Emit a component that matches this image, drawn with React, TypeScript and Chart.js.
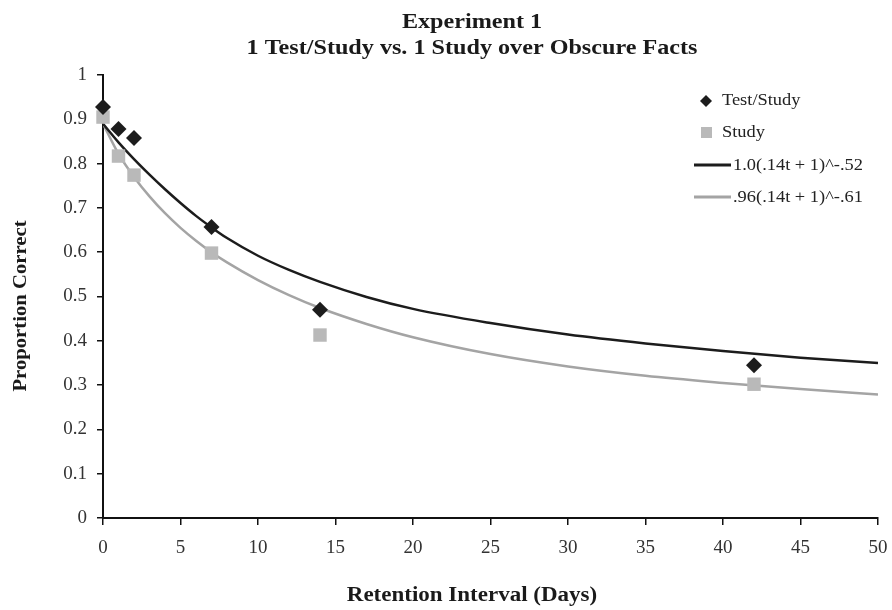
import React, { useEffect, useRef } from "react";
import { Chart, registerables } from "chart.js";
Chart.register(...registerables);

const chartTitle = ["Experiment 1", "1 Test/Study vs. 1 Study over Obscure Facts"];
const xAxisTitle = "Retention Interval (Days)";
const yAxisTitle = "Proportion Correct";
const seriesNames = ["Test/Study", "Study", "1.0(.14t + 1)^-.52", ".96(.14t + 1)^-.61"];

const retentionDays = [0, 1, 2, 7, 14, 42];
const testStudyValues = [0.928, 0.878, 0.858, 0.657, 0.47, 0.345];
const studyValues = [0.905, 0.817, 0.774, 0.598, 0.413, 0.302];

const curveDays = [0, 1, 2, 3, 4, 5, 6, 7, 8, 10, 12, 14, 17, 20, 25, 30, 35, 40, 45, 50];
const testStudyCurve = [0.89, 0.848, 0.81, 0.775, 0.742, 0.711, 0.682, 0.656, 0.632, 0.592, 0.56, 0.533, 0.499, 0.472, 0.44, 0.414, 0.394, 0.377, 0.362, 0.35];
const studyCurve = [0.89, 0.822, 0.77, 0.726, 0.688, 0.655, 0.626, 0.6, 0.577, 0.537, 0.503, 0.474, 0.438, 0.408, 0.37, 0.342, 0.321, 0.305, 0.291, 0.279];

const DARK = "#1c1c1c";
const GRAY_MARK = "#b9b9b9";
const GRAY_LINE = "#a4a4a4";
const SERIF = '"Liberation Serif", "Times New Roman", serif';

function stretchText(ctx: CanvasRenderingContext2D, text: string, x: number, y: number, sx: number) {
  ctx.save();
  ctx.translate(x, y);
  ctx.scale(sx, 1);
  ctx.fillText(text, 0, 0);
  ctx.restore();
}

const annotations = {
  id: "annotations",
  afterDraw(chart: any) {
    const ctx: CanvasRenderingContext2D = chart.ctx;
    const SX = 1.15;
    ctx.save();
    ctx.fillStyle = "#1a1a1a";
    ctx.textBaseline = "middle";
    ctx.textAlign = "center";
    ctx.font = `bold 21px ${SERIF}`;
    stretchText(ctx, chartTitle[0], 472, 23, SX);
    stretchText(ctx, chartTitle[1], 472, 49, SX);
    ctx.font = `bold 20px ${SERIF}`;
    stretchText(ctx, xAxisTitle, 472, 596, SX);
    ctx.save();
    ctx.translate(21, 306);
    ctx.rotate(-Math.PI / 2);
    ctx.font = `bold 18px ${SERIF}`;
    stretchText(ctx, yAxisTitle, 0, 0, SX);
    ctx.restore();

    // legend
    ctx.textAlign = "left";
    ctx.font = `16px ${SERIF}`;
    ctx.fillStyle = DARK;
    ctx.beginPath();
    ctx.moveTo(706, 95);
    ctx.lineTo(712, 101);
    ctx.lineTo(706, 107);
    ctx.lineTo(700, 101);
    ctx.closePath();
    ctx.fill();
    ctx.fillStyle = "#222";
    stretchText(ctx, seriesNames[0], 722, 101, SX);
    ctx.fillStyle = GRAY_MARK;
    ctx.fillRect(701, 127, 11, 11);
    ctx.fillStyle = "#222";
    stretchText(ctx, seriesNames[1], 722, 133, SX);
    ctx.lineWidth = 3;
    ctx.strokeStyle = DARK;
    ctx.beginPath();
    ctx.moveTo(694, 165);
    ctx.lineTo(731, 165);
    ctx.stroke();
    stretchText(ctx, seriesNames[2], 733, 166, SX);
    ctx.strokeStyle = GRAY_LINE;
    ctx.beginPath();
    ctx.moveTo(694, 197);
    ctx.lineTo(731, 197);
    ctx.stroke();
    stretchText(ctx, seriesNames[3], 733, 198, SX);
    ctx.restore();
  },
};

export default function App() {
  const ref = useRef<HTMLCanvasElement | null>(null);
  useEffect(() => {
    if (!ref.current) return;
    const chart = new Chart(ref.current, {
      type: "scatter",
      data: {
        datasets: [
          {
            label: seriesNames[0],
            data: retentionDays.map((d, i) => ({ x: d, y: testStudyValues[i] })),
            pointStyle: "rectRot",
            pointRadius: 8,
            backgroundColor: DARK,
            borderColor: DARK,
            borderWidth: 0,
            showLine: false,
            clip: false as any,
            order: 0,
          },
          {
            label: seriesNames[1],
            data: retentionDays.map((d, i) => ({ x: d, y: studyValues[i] })),
            pointStyle: "rect",
            pointRadius: 9.5,
            backgroundColor: GRAY_MARK,
            borderColor: GRAY_MARK,
            borderWidth: 0,
            showLine: false,
            clip: false as any,
            order: 1,
          },
          {
            label: seriesNames[2],
            data: curveDays.map((d, i) => ({ x: d, y: testStudyCurve[i] })),
            showLine: true,
            pointRadius: 0,
            borderColor: DARK,
            borderWidth: 2.5,
            cubicInterpolationMode: "monotone",
            order: 2,
          } as any,
          {
            label: seriesNames[3],
            data: curveDays.map((d, i) => ({ x: d, y: studyCurve[i] })),
            showLine: true,
            pointRadius: 0,
            borderColor: GRAY_LINE,
            borderWidth: 2.5,
            cubicInterpolationMode: "monotone",
            order: 3,
          } as any,
        ],
      },
      options: {
        animation: false,
        responsive: true,
        maintainAspectRatio: false,
        layout: { padding: { left: 0, right: 14, top: 75, bottom: 0 } },
        plugins: { legend: { display: false }, tooltip: { enabled: false }, title: { display: false } },
        scales: {
          x: {
            type: "linear",
            min: 0,
            max: 50,
            ticks: {
              stepSize: 5,
              color: "#333",
              font: { family: SERIF, size: 19 },
              padding: 12,
            },
            grid: { drawOnChartArea: false, drawTicks: true, tickLength: 7, color: "#111", lineWidth: 1.5 },
            border: { color: "#111", width: 2 },
            afterFit: (s: any) => {
              s.height = 92;
              s.paddingLeft = 0;
              s.paddingRight = 0;
            },
          },
          y: {
            type: "linear",
            min: 0,
            max: 1,
            ticks: {
              stepSize: 0.1,
              color: "#333",
              font: { family: SERIF, size: 19 },
              padding: 10,
              callback: (v: any) => String(Number(Number(v).toFixed(1))),
            },
            grid: { drawOnChartArea: false, drawTicks: true, tickLength: 6, color: "#111", lineWidth: 1.5 },
            border: { color: "#111", width: 2 },
            afterFit: (s: any) => {
              s.width = 103;
              s.paddingTop = 0;
              s.paddingBottom = 0;
            },
          },
        },
      },
      plugins: [annotations],
    });
    return () => chart.destroy();
  }, []);
  return (
    <div style={{ position: "absolute", left: 0, top: 0, width: 892, height: 610, background: "#fff" }}>
      <canvas ref={ref} />
    </div>
  );
}
